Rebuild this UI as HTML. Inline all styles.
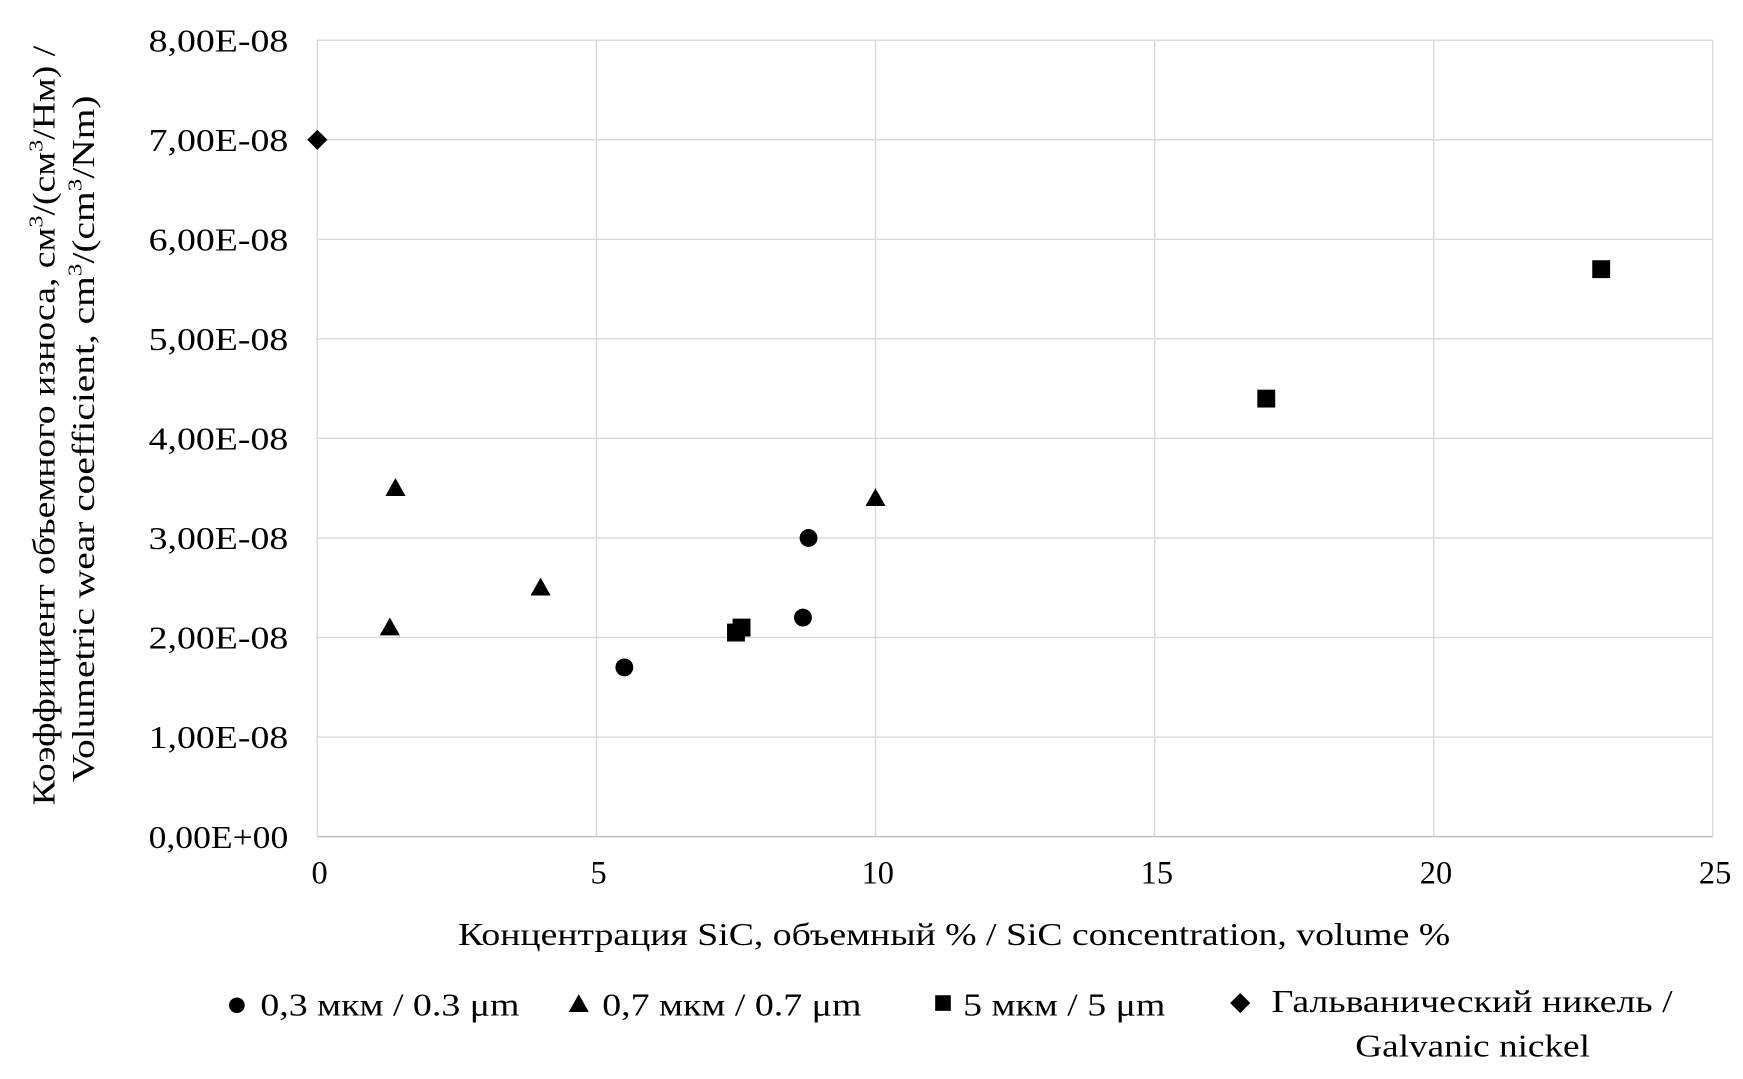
<!DOCTYPE html>
<html><head><meta charset="utf-8">
<style>html,body{margin:0;padding:0;background:#fff;}svg{display:block;}
text{font-family:"Liberation Serif",serif;fill:#000;}</style></head>
<body>
<svg id="chart" width="1743" height="1079" viewBox="0 0 1560 966" preserveAspectRatio="none" xmlns="http://www.w3.org/2000/svg">
<g id="grid"></g>
<g id="yticks"></g>
<g id="xticks"></g>
<g id="marks"></g>
<text transform="translate(49,381) rotate(-90)" text-anchor="middle" font-size="28" textLength="680" lengthAdjust="spacingAndGlyphs">Коэффициент объемного износа, см<tspan font-size="18" dy="-11">3</tspan><tspan dy="11">/(см</tspan><tspan font-size="18" dy="-11">3</tspan><tspan dy="11">/Нм) /</tspan></text>
<text transform="translate(84,393) rotate(-90)" text-anchor="middle" font-size="28" textLength="615" lengthAdjust="spacingAndGlyphs">Volumetric wear coefficient, cm<tspan font-size="18" dy="-11">3</tspan><tspan dy="11">/(cm</tspan><tspan font-size="18" dy="-11">3</tspan><tspan dy="11">/Nm)</tspan></text>
<text x="410" y="846" font-size="28" textLength="888" lengthAdjust="spacingAndGlyphs">Концентрация SiC, объемный % / SiC concentration, volume %</text>
<g font-size="28">
<circle cx="212" cy="900" r="7"/><text x="233" y="909" textLength="232" lengthAdjust="spacingAndGlyphs">0,3 мкм / 0.3 μm</text>
<polygon points="518,890 527,906 509,906"/><text x="539" y="909" textLength="232" lengthAdjust="spacingAndGlyphs">0,7 мкм / 0.7 μm</text>
<rect x="837" y="891" width="14" height="14"/><text x="862" y="909" textLength="181" lengthAdjust="spacingAndGlyphs">5 мкм / 5 μm</text>
<polygon points="1110,889 1119,898 1110,907 1101,898"/><text x="1138" y="906" textLength="359" lengthAdjust="spacingAndGlyphs">Гальванический никель /</text>
<text x="1213" y="946" textLength="210" lengthAdjust="spacingAndGlyphs">Galvanic nickel</text>
</g>
</svg>
<script>
const xTicks=[0,5,10,15,20,25];
const yTicks=[0,1e-8,2e-8,3e-8,4e-8,5e-8,6e-8,7e-8,8e-8];
const yTickLabels=["0,00E+00","1,00E-08","2,00E-08","3,00E-08","4,00E-08","5,00E-08","6,00E-08","7,00E-08","8,00E-08"];
const s03x=[5.5,8.7,8.8];
const s03y=[1.7e-8,2.2e-8,3.0e-8];
const s07x=[1.3,1.4,4,10];
const s07y=[2.1e-8,3.5e-8,2.5e-8,3.4e-8];
const s5x=[7.5,7.6,17,23];
const s5y=[2.05e-8,2.1e-8,4.4e-8,5.7e-8];
const niX=[0];
const niY=[7.0e-8];
const NS="http://www.w3.org/2000/svg";
const L=284,R=1533,T=36,B=749;
const xS=v=>L+(v-0)/25*(R-L);
const yS=v=>B-(v/8e-8)*(B-T);
function mk(tag,attrs,parent){const e=document.createElementNS(NS,tag);for(const k in attrs)e.setAttribute(k,attrs[k]);parent.appendChild(e);return e;}
const grid=document.getElementById('grid'),yt=document.getElementById('yticks'),xt=document.getElementById('xticks'),marks=document.getElementById('marks');
yTicks.forEach((v,i)=>{
 const ln=mk('line',{x1:L,x2:R,y1:yS(v),y2:yS(v),stroke:i==0?'#bfbfbf':'#d9d9d9','stroke-width':1.3},grid);
 
 
 const t=mk('text',{x:133,y:yS(v)+10,'font-size':28,textLength:125,lengthAdjust:'spacingAndGlyphs'},yt);t.textContent=yTickLabels[i];
 
 
});
xTicks.forEach(v=>{
 const ln=mk('line',{x1:xS(v),x2:xS(v),y1:T,y2:B,stroke:'#d9d9d9','stroke-width':1.3},grid);
 
 
 const t=mk('text',{x:xS(v)+2,y:791,'text-anchor':'middle','font-size':29},xt);t.textContent=String(v);
 
 
});
s03x.forEach((x,i)=>{const e=mk('circle',{cx:xS(x),cy:yS(s03y[i]),r:8},marks);
 
 });
s07x.forEach((x,i)=>{const cx=xS(x),cy=yS(s07y[i]);const e=mk('polygon',{points:`${cx},${cy-9} ${cx+9},${cy+7} ${cx-9},${cy+7}`},marks);
 
 });
s5x.forEach((x,i)=>{const cx=xS(x),cy=yS(s5y[i]);const e=mk('rect',{x:cx-8,y:cy-8,width:16,height:16},marks);
 
 });
niX.forEach((x,i)=>{const cx=xS(x),cy=yS(niY[i]);const e=mk('polygon',{points:`${cx},${cy-9} ${cx+9},${cy} ${cx},${cy+9} ${cx-9},${cy}`},marks);
 
 });
</script>
</body></html>
